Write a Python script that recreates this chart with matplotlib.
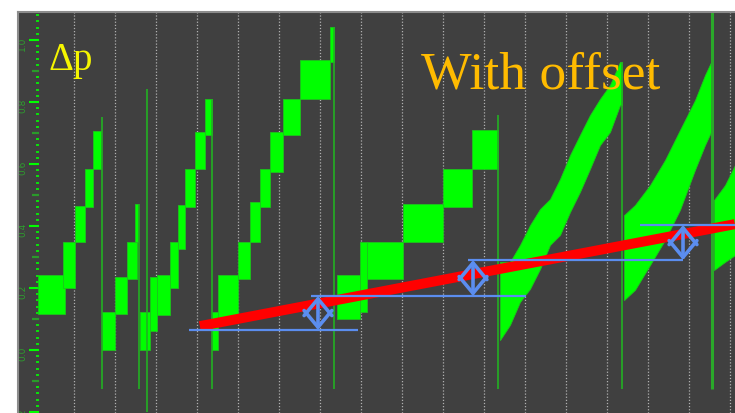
import numpy as np
import matplotlib
matplotlib.use('Agg')
import matplotlib.pyplot as plt
from matplotlib.patches import FancyArrowPatch
from matplotlib.ticker import FixedLocator, MultipleLocator

# staircase blocks of the pressure signal (start, end, low, high)
step_x0 = [-0.878, -0.268, 0.024, 0.268, 0.463,
           0.683, 1.0, 1.293, 1.488,
           1.61, 1.854, 2.024, 2.341, 2.537, 2.707, 2.951, 3.195,
           3.366, 3.512, 4.0, 4.293, 4.537, 4.78, 5.098, 5.512, 6.244,
           6.415, 6.976, 7.146, 8.024, 9.0, 9.707]
step_x1 = [-0.22, 0.024, 0.268, 0.463, 0.659,
           1.0, 1.293, 1.537, 1.561,
           1.854, 2.024, 2.341, 2.537, 2.707, 2.951, 3.195, 3.366,
           3.512, 4.0, 4.293, 4.537, 4.78, 5.098, 5.512, 6.244, 6.341,
           6.976, 7.146, 8.024, 9.0, 9.707, 10.341]
step_lo = [0.116, 0.2, 0.348, 0.461, 0.584,
           0.0, 0.116, 0.229, 0.348,
           0.0, 0.06, 0.113, 0.2, 0.326, 0.461, 0.584, 0.694,
           0.0, 0.1, 0.229, 0.348, 0.461, 0.574, 0.694, 0.81, 0.929,
           0.1, 0.123, 0.229, 0.348, 0.461, 0.584]
step_hi = [0.242, 0.35, 0.465, 0.584, 0.706,
           0.123, 0.235, 0.348, 0.471,
           0.123, 0.235, 0.242, 0.348, 0.468, 0.584, 0.703, 0.81,
           0.123, 0.242, 0.348, 0.477, 0.584, 0.703, 0.81, 0.935, 1.042,
           0.242, 0.348, 0.348, 0.471, 0.584, 0.71]

# smooth ramps
ramp1_x = [10.39, 10.634, 10.878, 11.122, 11.366, 11.61, 11.854, 12.098,
           12.341, 12.585, 12.829, 13.073, 13.317, 13.366]
ramp1_top = [0.284, 0.284, 0.339, 0.403, 0.455, 0.487, 0.552, 0.629,
             0.694, 0.758, 0.81, 0.855, 0.929, 0.929]
ramp1_bot = [0.032, 0.081, 0.155, 0.197, 0.261, 0.339, 0.371, 0.445,
             0.51, 0.584, 0.661, 0.703, 0.79, 0.79]
ramp2_x = [13.415, 13.683, 14.049, 14.415, 14.78, 15.146, 15.39, 15.561]
ramp2_top = [0.435, 0.468, 0.532, 0.613, 0.71, 0.806, 0.887, 0.935]
ramp2_bot = [0.161, 0.194, 0.274, 0.355, 0.452, 0.581, 0.661, 0.71]
ramp3_x = [15.61, 15.878, 16.122]
ramp3_top = [0.484, 0.532, 0.597]
ramp3_bot = [0.258, 0.284, 0.306]

# reset spikes
spike_x = [0.683, 1.585, 1.78, 3.366, 6.341, 10.341, 13.366]
spike_top = [0.752, 0.471, 0.842, 0.81, 1.042, 0.758, 0.929]
spike_bot = [-0.126, -0.126, -0.2, -0.126, -0.126, -0.126, -0.126]
big_spike_x = 15.561

# offset trend and levels
fit_x = [3.07, 16.12]
fit_y = [0.077, 0.406]
level_y = [0.0645, 0.174, 0.29, 0.403]
level_x0 = [2.805, 5.78, 9.61, 13.805]
level_x1 = [6.927, 11.024, 14.854, 16.122]
arrow_x = [5.951, 9.732, 14.854]

ytick_vals = [-0.2, 0.0, 0.2, 0.4, 0.6, 0.8, 1.0]
ymid_vals = [-0.1, 0.1, 0.3, 0.5, 0.7, 0.9]

GREEN = '#00ff00'
BLUE = '#5b8def'

fig = plt.figure(figsize=(7.35, 4.13), dpi=100)
ax = fig.add_axes([18 / 735, 0, 717 / 735, 401 / 413])
ax.set_facecolor('#404040')
ax.set_xlim(-1.366, 16.122)
ax.set_ylim(-0.2032, 1.0903)

for x0, x1, lo, hi in zip(step_x0, step_x1, step_lo, step_hi):
    ax.fill_between([x0, x1], lo, hi, facecolor=GREEN, edgecolor='#1cc41c', lw=0.6, zorder=2)
for rx, rt, rb in [(ramp1_x, ramp1_top, ramp1_bot),
                   (ramp2_x, ramp2_top, ramp2_bot),
                   (ramp3_x, ramp3_top, ramp3_bot)]:
    ax.fill_between(rx, rb, rt, facecolor=GREEN, edgecolor='#1cc41c', lw=0.6, zorder=2)
ax.vlines(spike_x, spike_bot, spike_top, color='#22b022', lw=1.2, zorder=2)
ax.vlines(big_spike_x, -0.126, 1.0903, color='#2aa82a', lw=2.2, zorder=2)

ax.plot(fit_x, fit_y, color='#ff0000', lw=7.2, solid_capstyle='butt', zorder=4)
ax.hlines(level_y, level_x0, level_x1, color=BLUE, lw=1.6, zorder=5)
for xa, y0, y1 in zip(arrow_x, level_y[:-1], level_y[1:]):
    ax.add_patch(FancyArrowPatch((xa, y0), (xa, y1),
                                 arrowstyle='<->,head_length=0.6,head_width=0.5',
                                 mutation_scale=20, color=BLUE, lw=2.6,
                                 shrinkA=0, shrinkB=0, zorder=6))

# frame
for side in ['left', 'right', 'bottom']:
    ax.spines[side].set_visible(False)
ax.spines['left'].set_position(('axes', 21 / 717))
ax.spines['top'].set_color('#8c8c8c')
ax.spines['top'].set_linewidth(1.5)
ax.plot([0, 0], [0, 1], transform=ax.transAxes, color='#8c8c8c', lw=1.5, clip_on=False)

# x grid
ax.set_xticks(np.arange(0, 17))
ax.tick_params(axis='x', length=0, labelbottom=False)
ax.grid(axis='x', color='#b0b0b0', linestyle=(0, (1, 1.5)), lw=0.9)
ax.set_axisbelow(True)

# y ticks drawn inside the plot
ax.yaxis.set_major_locator(FixedLocator(ytick_vals))
ax.yaxis.set_minor_locator(MultipleLocator(0.02))
ax.set_yticklabels([f"{v:.1f}" for v in ytick_vals])
ax.tick_params(axis='y', which='major', direction='out', length=7.2, width=1.5,
               color=GREEN, labelcolor='#2e9e2e', labelsize=6.5, pad=1.2, labelrotation=90)
ax.tick_params(axis='y', which='minor', direction='out', length=2.2, width=1.2, color=GREEN)
for v in ymid_vals:
    ax.plot([14 / 717, 21 / 717], [v, v], transform=ax.get_yaxis_transform(),
            color='#2a9a2a', lw=1.6, solid_capstyle='butt')

ax.text(0.042, 0.855, 'Δp', transform=ax.transAxes, fontsize=28,
        family='Liberation Serif', color='#f5f500', va='baseline')
ax.text(0.562, 0.808, 'With offset', transform=ax.transAxes, fontsize=38.5,
        family='Liberation Serif', color='#ffbb00', va='baseline')

fig.savefig('out.png', dpi=100)
plt.close(fig)
